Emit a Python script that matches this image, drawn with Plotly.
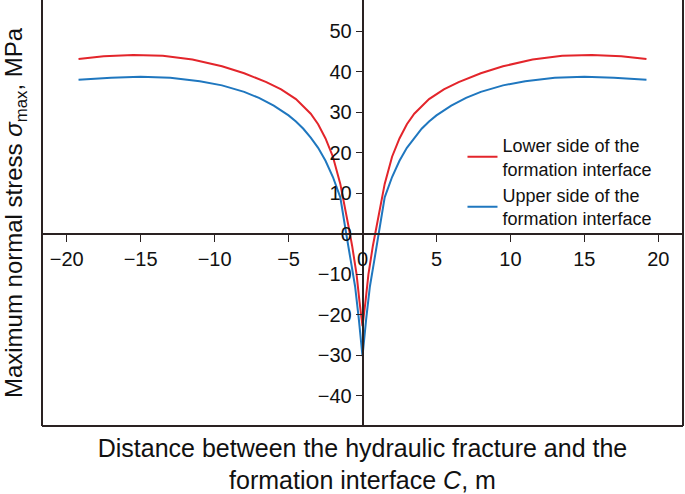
import plotly.graph_objects as go

# ---- data ----
lower_x = [-19.2, -17.5, -15.5, -13.5, -11.5, -9.5, -8, -6.5, -5.5, -4.5, -3.5, -3, -2.5, -2,
           -1.5, -1.2, -0.9, -0.7, -0.4, -0.2, 0,
           0.2, 0.4, 0.7, 0.9, 1.2, 1.5, 2, 2.5, 3, 3.5, 4.5, 5.5, 6.5, 8, 9.5, 11.5, 13.5, 15.5, 17.5, 19.2]
lower_y = [43.1, 43.8, 44.1, 43.9, 43.0, 41.3, 39.6, 37.4, 35.6, 33.2, 29.6, 27.0, 23.5, 19.0,
           12.3, 7.0, 1.0, -3.0, -10.0, -16.8, -22.8,
           -16.8, -10.0, -3.0, 1.0, 7.0, 12.3, 19.0, 23.5, 27.0, 29.6, 33.2, 35.6, 37.4, 39.6, 41.3, 43.0, 43.9, 44.1, 43.8, 43.1]

upper_x = [-19.2, -17, -15, -13, -11, -9.5, -8, -7, -6, -5, -4.5, -4, -3.5, -3, -2.5, -2,
           -1.5, -1.3, -1.1, -0.8, -0.5, -0.25, 0,
           0.25, 0.5, 0.8, 1.1, 1.3, 1.5, 2, 2.5, 3, 3.5, 4, 4.5, 5, 6, 7, 8, 9.5, 11, 13, 15, 17, 19.2]
upper_y = [38.0, 38.5, 38.7, 38.5, 37.6, 36.6, 35.0, 33.5, 31.6, 29.2, 27.7, 25.9, 23.7, 21.2, 18.0, 14.0,
           9.0, 5.0, 0.0, -6.5, -13.0, -21.0, -30.2,
           -21.0, -13.0, -6.5, 0.0, 5.0, 9.0, 14.0, 18.0, 21.2, 23.7, 25.9, 27.7, 29.2, 31.6, 33.5, 35.0, 36.6, 37.6, 38.5, 38.7, 38.5, 38.0]

series_names = ["Lower side of the<br>formation interface", "Upper side of the<br>formation interface"]
x_ticks = [-20, -15, -10, -5, 0, 5, 10, 15, 20]
y_ticks = [-40, -30, -20, -10, 0, 10, 20, 30, 40, 50]

x_title = "Distance between the hydraulic fracture and the<br>formation interface <i>C</i>, m"
y_title = "Maximum normal stress <i>σ</i><sub>max</sub>, MPa"

# ---- styling ----
FONT = "Arial, Liberation Sans, Helvetica, sans-serif"
RED = "#e3252b"
BLUE = "#1f77bf"
DARK = "#2a2222"
XR = [-21.67, 21.67]
YR = [-47.4, 57.65]
y0_frac = (0 - YR[0]) / (YR[1] - YR[0])

fig = go.Figure()
fig.add_trace(go.Scatter(x=lower_x, y=lower_y, mode="lines", name=series_names[0],
                         line=dict(color=RED, width=2)))
fig.add_trace(go.Scatter(x=upper_x, y=upper_y, mode="lines", name=series_names[1],
                         line=dict(color=BLUE, width=2)))
# helper (empty) trace so the frame/title axes are drawn
fig.add_trace(go.Scatter(x=[None], y=[None], xaxis="x2", yaxis="y2", showlegend=False,
                         hoverinfo="skip"))

fig.update_layout(
    width=685, height=494,
    margin=dict(l=42, r=2, t=0, b=68, autoexpand=False),
    paper_bgcolor="white", plot_bgcolor="white",
    font=dict(family=FONT, color="#111111"),
    showlegend=True,
    legend=dict(x=0.656, y=0.702, xanchor="left", yanchor="top",
                font=dict(size=18, family=FONT, color="#111111"),
                bgcolor="rgba(0,0,0,0)", tracegroupgap=0, itemwidth=30),
    xaxis=dict(range=XR, anchor="free", position=y0_frac, showline=True, linecolor=DARK,
               linewidth=1.5, ticks="outside", tickvals=x_ticks, ticklen=7, tickwidth=1.2,
               tickcolor=DARK, tickfont=dict(size=20), showgrid=False, zeroline=False,
               automargin=False),
    yaxis=dict(range=YR, anchor="free", position=0.5, showline=True, linecolor=DARK,
               linewidth=1.5, ticks="outside", tickvals=y_ticks, ticklen=6, tickwidth=1.2,
               tickcolor=DARK, tickfont=dict(size=20), showgrid=False, zeroline=False,
               automargin=False),
    xaxis2=dict(range=XR, overlaying="x", anchor="free", position=0, side="bottom",
                showline=True, linecolor=DARK, linewidth=2, ticks="", showticklabels=False,
                showgrid=False, zeroline=False, automargin=False,
                title=dict(text=x_title, font=dict(size=25), standoff=14)),
    yaxis2=dict(range=YR, overlaying="y", anchor="free", position=0, side="left",
                showline=True, linecolor=DARK, linewidth=2, ticks="", showticklabels=False,
                showgrid=False, zeroline=False, automargin=False,
                title=dict(text=y_title, font=dict(size=24), standoff=14)),
    shapes=[dict(type="line", xref="paper", yref="paper", x0=1, x1=1, y0=0, y1=1,
                 line=dict(color=DARK, width=2))],
)

fig.write_html("out.html", config={"displayModeBar": False},
               post_script="document.body.style.margin='0';")
